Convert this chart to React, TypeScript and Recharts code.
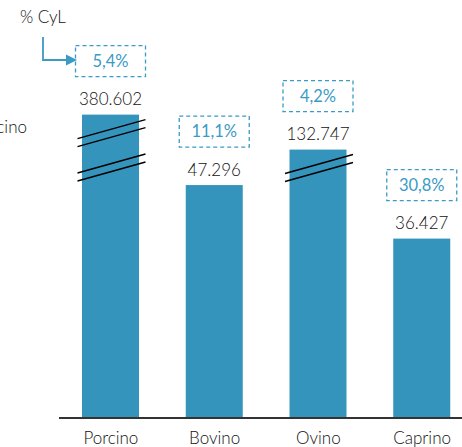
import React from 'react';
import { BarChart, Bar, XAxis, YAxis, LabelList } from 'recharts';

// tonnes by species, Castilla y León share
const categories = ['Porcino', 'Bovino', 'Ovino', 'Caprino'];
const values = [380602, 47296, 132747, 36427];
// heights drawn on the broken axis
const shownValues = [61600, 47296, 54500, 36427];
const pctCyL = ['5,4%', '11,1%', '4,2%', '30,8%'];
const breakPairs = [2, 0, 1, 0];

const data = categories.map((name, i) => ({
  name,
  value: values[i],
  shown: shownValues[i],
  pct: pctCyL[i],
  breaks: breakPairs[i],
}));

const BLUE = '#3594bc';
const BOX_BLUE = '#3a9bc5';
const TEXT = '#111';
const FONT = 'Lato, "Open Sans", sans-serif';

const fmt = (n: number) => String(n).replace(/\B(?=(\d{3})+(?!\d))/g, '.');

const BrokenBar = (props: any) => {
  const { x, y, width, height, payload } = props;
  const pairs = payload?.breaks || 0;
  const lines = [];
  for (let p = 0; p < pairs; p++) {
    const off = p * 34.3;
    lines.push(
      <line key={`a${p}`} x1={x - 4.5} y1={y + 24 + off} x2={x + width + 6.5} y2={y + 5 + off} stroke="#000" strokeWidth={1.5} />,
      <line key={`b${p}`} x1={x - 4.5} y1={y + 32 + off} x2={x + width + 6.5} y2={y + 13 + off} stroke="#000" strokeWidth={1.5} />
    );
  }
  return (
    <g>
      <rect x={x} y={y} width={width} height={height} fill={BLUE} />
      {lines}
    </g>
  );
};

const BarLabel = (props: any) => {
  const { x, y, width, index } = props;
  const d = data[index];
  if (!d) return null;
  const cx = x + width / 2;
  const boxBottom = y - 38;
  return (
    <g>
      <text x={cx} y={y - 9.5} textAnchor="middle" fill={TEXT} fontSize={17} fontWeight={300} fontFamily={FONT}>
        {fmt(d.value)}
      </text>
      <rect x={cx - 35} y={boxBottom - 31} width={70} height={31} fill="none" stroke={BOX_BLUE} strokeWidth={1.3} strokeDasharray="4 3" />
      <text x={cx} y={boxBottom - 10} textAnchor="middle" fill={BOX_BLUE} fontSize={16.5} fontFamily={FONT}>
        {d.pct}
      </text>
    </g>
  );
};

const CategoryTick = (props: any) => {
  const { x, y, payload } = props;
  return (
    <text x={x} y={y + 24} textAnchor="middle" fill={TEXT} fontSize={17} fontWeight={300} fontFamily={FONT}>
      {payload.value}
    </text>
  );
};

export default function App() {
  return (
    <div style={{ position: 'absolute', left: 0, top: 0, width: 462, height: 447, overflow: 'hidden', background: '#fff' }}>
      <BarChart width={474} height={447} data={data} margin={{ top: 24, right: 0, bottom: 0, left: 59 }} barSize={57}>
        <XAxis
          dataKey="name"
          height={29}
          tickLine={false}
          tickSize={0}
          axisLine={{ stroke: '#333', strokeWidth: 2 }}
          tick={<CategoryTick />}
          interval={0}
        />
        <YAxis hide domain={[0, 80000]} />
        <Bar dataKey="shown" shape={<BrokenBar />} isAnimationActive={false}>
          <LabelList dataKey="shown" content={<BarLabel />} />
        </Bar>
      </BarChart>
      <svg width={462} height={447} style={{ position: 'absolute', left: 0, top: 0, pointerEvents: 'none' }}>
        <text x={20} y={23} fill={TEXT} fontSize={17} fontWeight={300} fontFamily={FONT}>% CyL</text>
        <polyline points="43,37 43,60 67,60" fill="none" stroke={BOX_BLUE} strokeWidth={1.8} />
        <polygon points="66,54.5 77,60 66,65.5" fill={BOX_BLUE} />
        <text x={27} y={133} textAnchor="end" fill={TEXT} fontSize={17} fontWeight={300} fontFamily={FONT}>Porcino</text>
      </svg>
    </div>
  );
}
